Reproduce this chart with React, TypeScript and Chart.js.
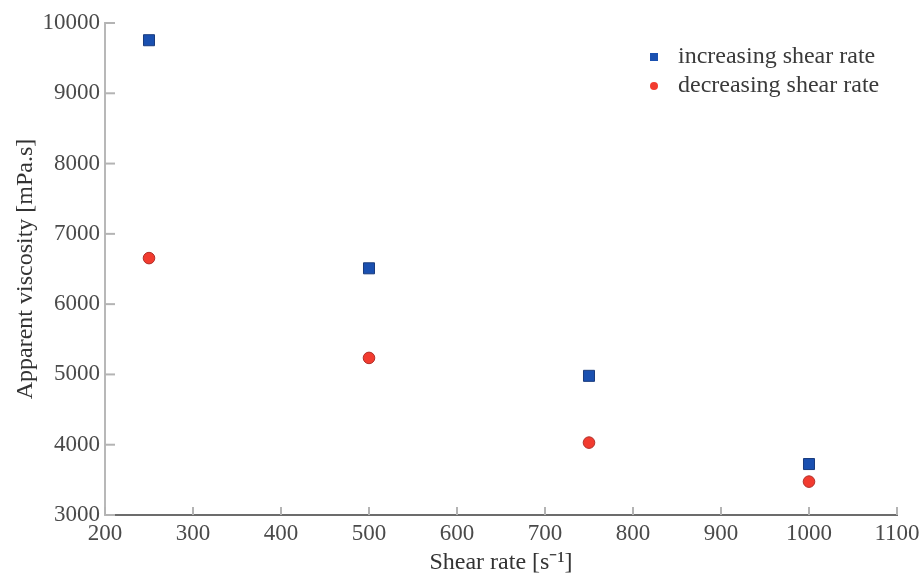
import { useEffect, useRef } from "react";
import { Chart, registerables } from "chart.js";

Chart.register(...registerables);

const shearRates = [250, 500, 750, 1000];
const increasingViscosity = [9755, 6510, 4980, 3725];
const decreasingViscosity = [6655, 5235, 4030, 3475];
const seriesLabels = ["increasing shear rate", "decreasing shear rate"];
const xTitle = "Shear rate [s\u207B\u00B9]";
const yTitle = "Apparent viscosity [mPa.s]";

const FONT = "'Liberation Serif', 'Times New Roman', serif";

const innerTicks = {
  id: "innerTicks",
  beforeDatasetsDraw(chart: any) {
    const { ctx, chartArea, scales } = chart;
    ctx.save();
    ctx.strokeStyle = "#b4b4b4";
    ctx.lineWidth = 2;
    scales.x.ticks.forEach((t: any) => {
      const px = scales.x.getPixelForValue(t.value);
      ctx.beginPath();
      ctx.moveTo(px, chartArea.bottom);
      ctx.lineTo(px, chartArea.bottom - 8);
      ctx.stroke();
    });
    scales.y.ticks.forEach((t: any) => {
      const py = scales.y.getPixelForValue(t.value);
      ctx.beginPath();
      ctx.moveTo(chartArea.left, py);
      ctx.lineTo(chartArea.left + 10, py);
      ctx.stroke();
    });
    ctx.restore();
  },
};

const customLegend = {
  id: "customLegend",
  afterDraw(chart: any) {
    const { ctx, chartArea } = chart;
    const x0 = chartArea.right - 243;
    const y0 = chartArea.top + 34;
    const gap = 29;
    ctx.save();
    chart.data.datasets.forEach((ds: any, i: number) => {
      const cy = y0 + i * gap;
      ctx.fillStyle = ds.backgroundColor;
      if (ds.pointStyle === "rect") {
        ctx.fillRect(x0 - 4, cy - 4, 8, 8);
      } else {
        ctx.beginPath();
        ctx.arc(x0, cy, 4, 0, Math.PI * 2);
        ctx.fill();
      }
      ctx.fillStyle = "#3a3a3a";
      ctx.font = `24px ${FONT}`;
      ctx.textBaseline = "middle";
      ctx.textAlign = "left";
      ctx.fillText(ds.label, x0 + 24, cy);
    });
    ctx.restore();
  },
};

export default function App() {
  const ref = useRef<HTMLCanvasElement | null>(null);

  useEffect(() => {
    document.body.style.margin = "0";
    if (!ref.current) return;
    const chart = new Chart(ref.current, {
      type: "scatter",
      data: {
        datasets: [
          {
            label: seriesLabels[0],
            data: shearRates.map((x, i) => ({ x, y: increasingViscosity[i] })),
            pointStyle: "rect",
            pointRadius: 7.8,
            backgroundColor: "#1a50b0",
            borderColor: "#1a3c7e",
            borderWidth: 1,
          },
          {
            label: seriesLabels[1],
            data: shearRates.map((x, i) => ({ x, y: decreasingViscosity[i] })),
            pointStyle: "circle",
            pointRadius: 5.8,
            backgroundColor: "#f23b2f",
            borderColor: "#b0302a",
            borderWidth: 1,
          },
        ],
      },
      options: {
        animation: false,
        responsive: false,
        maintainAspectRatio: false,
        layout: { padding: { top: 23, right: 24, left: 0, bottom: 0 } },
        plugins: {
          legend: { display: false },
          tooltip: { enabled: false },
        },
        scales: {
          x: {
            type: "linear",
            min: 200,
            max: 1100,
            ticks: {
              stepSize: 100,
              padding: 5,
              color: "#4a4a4a",
              font: { family: FONT, size: 23 },
              maxRotation: 0,
              callback: (v: any) => String(v),
            },
            grid: { display: false, drawTicks: false },
            border: { display: true, color: "#6c6c6c", width: 2 },
            title: {
              display: true,
              text: xTitle,
              color: "#333333",
              font: { family: FONT, size: 24 },
              padding: { top: 0, bottom: 0 },
            },
            afterFit: (s: any) => {
              s.height = 62;
              s.paddingLeft = 0;
              s.paddingRight = 0;
            },
          },
          y: {
            type: "linear",
            min: 3000,
            max: 10000,
            ticks: {
              stepSize: 1000,
              padding: 5,
              color: "#4a4a4a",
              font: { family: FONT, size: 23 },
              callback: (v: any) => String(v),
            },
            grid: { display: false, drawTicks: false },
            border: { display: true, color: "#b8b8b8", width: 2 },
            title: {
              display: true,
              text: yTitle,
              color: "#333333",
              font: { family: FONT, size: 24 },
              padding: { top: 11, bottom: 0 },
            },
            afterFit: (s: any) => {
              s.width = 105;
              s.paddingTop = 0;
              s.paddingBottom = 0;
            },
          },
        },
      },
      plugins: [innerTicks, customLegend],
    });
    return () => chart.destroy();
  }, []);

  return (
    <div style={{ width: 921, height: 577 }}>
      <canvas ref={ref} width={921} height={577} style={{ display: "block" }} />
    </div>
  );
}
